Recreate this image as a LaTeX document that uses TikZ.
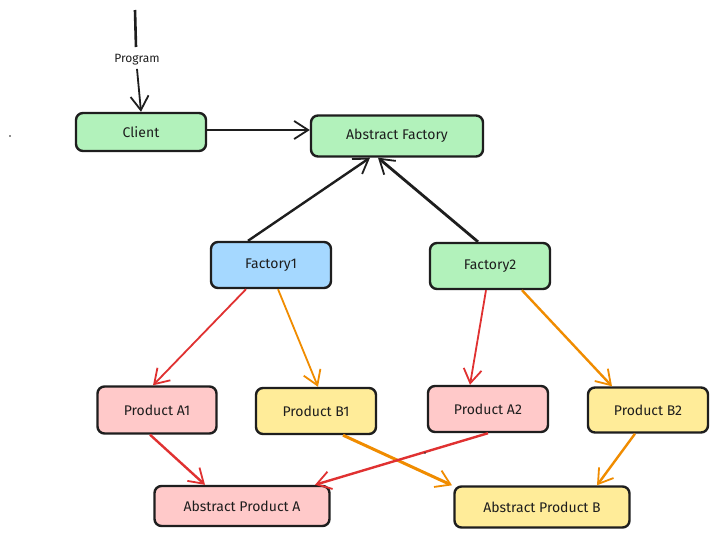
\documentclass[tikz,border=0pt]{standalone}
\usepackage{fontspec}
\setmainfont{Fira Sans}
\usetikzlibrary{arrows.meta}
\definecolor{ink}{HTML}{1E1E1E}
\definecolor{cgreen}{HTML}{B2F2BB}
\definecolor{cblue}{HTML}{A5D8FF}
\definecolor{cpink}{HTML}{FFC9C9}
\definecolor{cyellow}{HTML}{FFEC99}
\definecolor{cred}{HTML}{E03131}
\definecolor{corange}{HTML}{F08C00}
\tikzset{
  box/.style={draw=ink, line width=2.4pt, rounded corners=7pt, align=center,
    font=\fontsize{14}{16}\selectfont, text=ink, inner sep=0pt},
  conn/.style={line width=2.4pt, -{Straight Barb[length=14pt,width=18pt,line width=1.8pt]}},
  bl/.style={conn, draw=ink},
  rd/.style={conn, draw=cred},
  og/.style={conn, draw=corange},
}
\begin{document}
\begin{tikzpicture}[x=1pt,y=-1pt]
\useasboundingbox (0,0) rectangle (719,538);
\fill[white] (0,0) rectangle (719,538);
\node[box, fill=cgreen, minimum width=130pt, minimum height=38pt] (client) at (141,132) {Client};
\node[box, fill=cgreen, minimum width=172pt, minimum height=41pt] (af) at (397,136) {Abstract Factory};
\node[box, fill=cblue, minimum width=120pt, minimum height=46pt] (f1) at (271,265) {Factory1};
\node[box, fill=cgreen, minimum width=120pt, minimum height=46pt] (f2) at (490,266) {Factory2};
\node[box, fill=cpink, minimum width=119pt, minimum height=47pt] (a1) at (157,410) {Product A1};
\node[box, fill=cyellow, minimum width=120pt, minimum height=46pt] (b1) at (316,411) {Product B1};
\node[box, fill=cpink, minimum width=120pt, minimum height=46pt] (a2) at (488,409) {Product A2};
\node[box, fill=cyellow, minimum width=120pt, minimum height=45pt] (b2) at (648,410) {Product B2};
\node[box, fill=cpink, minimum width=175pt, minimum height=40pt] (apa) at (242,506) {Abstract Product A};
\node[box, fill=cyellow, minimum width=175pt, minimum height=41pt] (apb) at (542,507) {Abstract Product B};
\coordinate (start) at (135,10);
\draw[ink, line width=2.6pt] (start) -- (136,47);
\node[font=\fontsize{12}{14}\selectfont, text=ink] (prog) at (137,60) {Program};
\draw[bl, line width=1.8pt] (prog.south) -- (client.north);
\draw[bl] (client.east |- 0,130) -- (af.west |- 0,130);
\draw[bl] ([xshift=-23pt]f1.north) -- ([xshift=-27pt]af.south);
\draw[bl, line width=2.8pt] ([xshift=-12pt]f2.north) -- ([xshift=-19pt]af.south);
\draw[rd, line width=1.8pt] ([xshift=-25pt]f1.south) -- ([xshift=-4pt]a1.north);
\draw[og, line width=1.8pt] ([xshift=7pt]f1.south) -- ([xshift=2pt]b1.north);
\draw[rd, line width=1.8pt] ([xshift=-4pt]f2.south) -- ([xshift=-18pt]a2.north);
\draw[og] ([xshift=32pt]f2.south) -- ([xshift=-36pt]b2.north);
\draw[rd] ([xshift=-7pt]a1.south) -- ([xshift=-37pt]apa.north);
\draw[og, line width=3pt] ([xshift=27pt]b1.south) -- ([xshift=-90pt]apb.north);
\draw[rd] (a2.south) -- ([xshift=73pt]apa.north);
\draw[og] ([xshift=-13pt]b2.south) -- ([xshift=55pt]apb.north);
\fill[ink] (10,136) circle (0.8pt);
\fill[ink] (425,453) circle (0.8pt);
\end{tikzpicture}
\end{document}
